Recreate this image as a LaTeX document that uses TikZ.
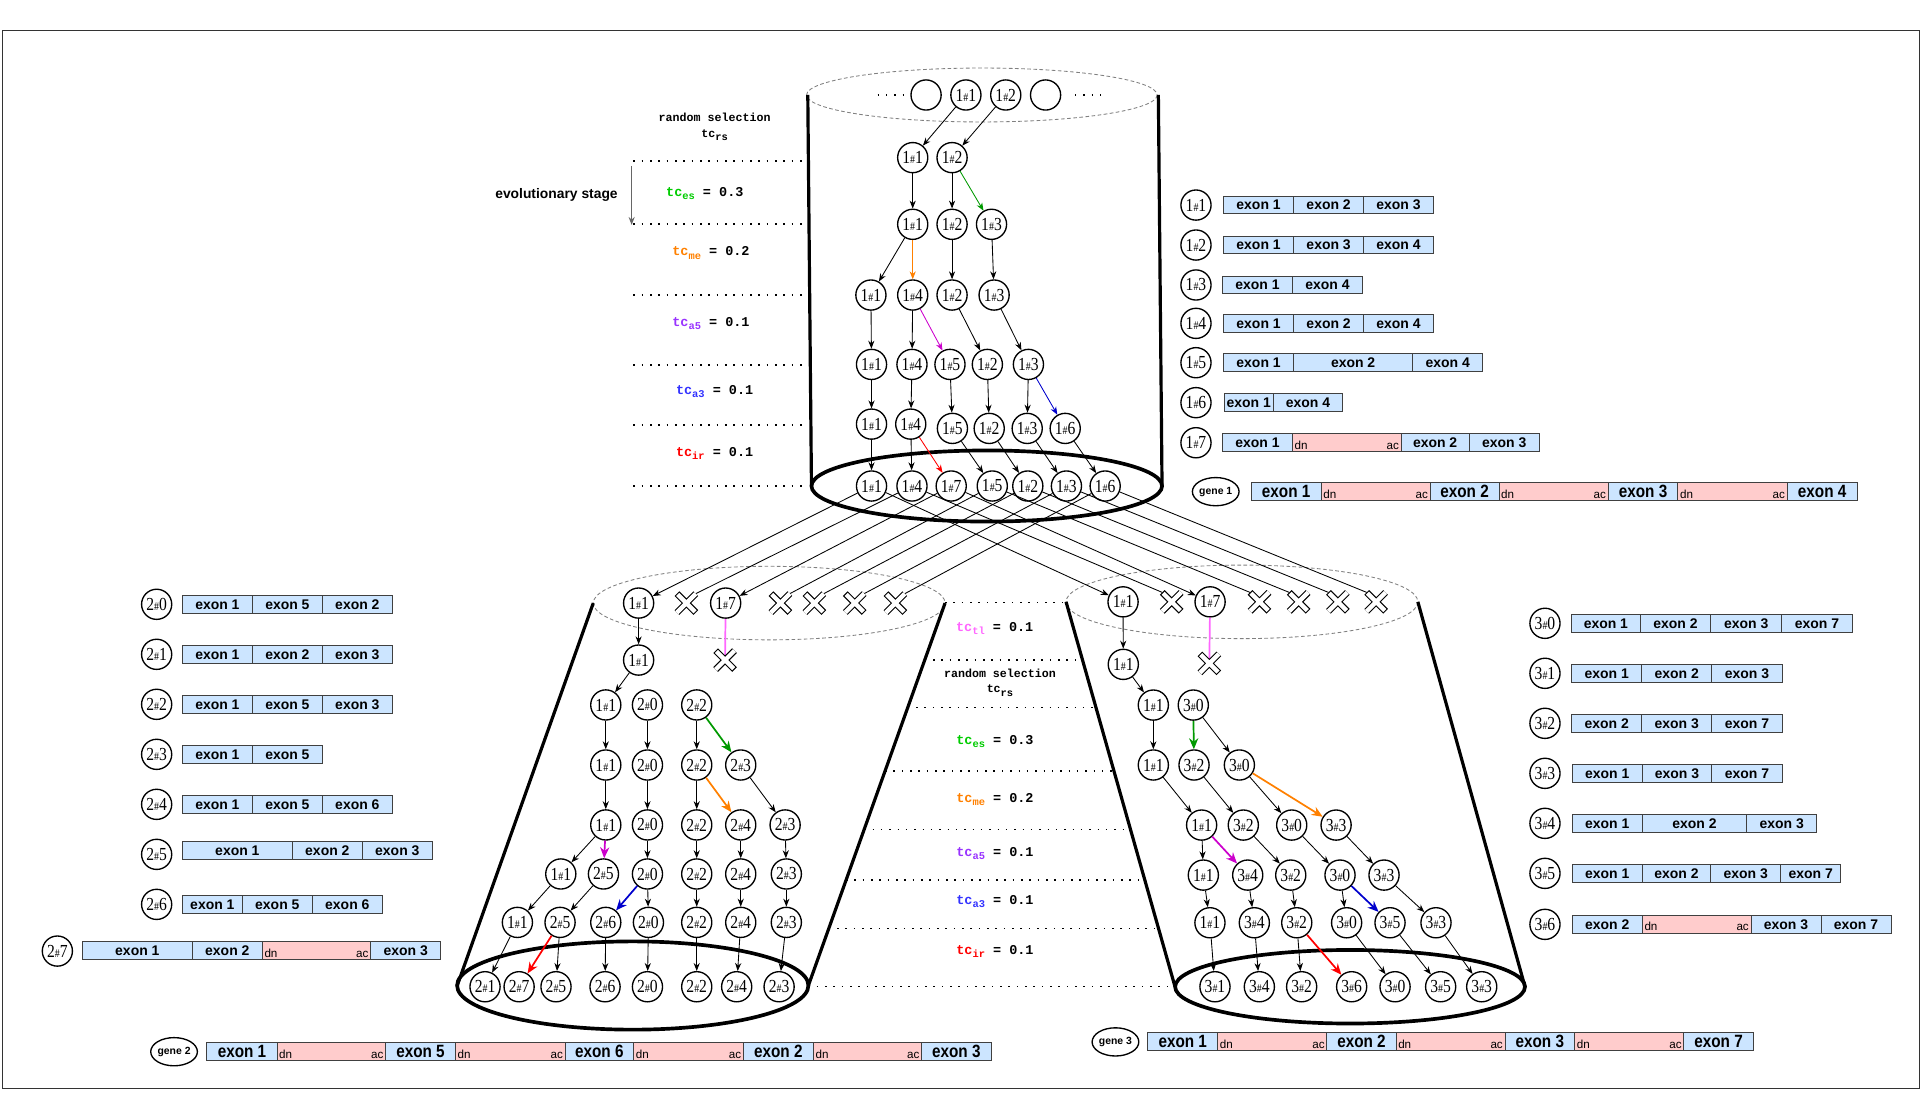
\documentclass[tikz,border=0pt]{standalone}
\usepackage{fontspec}
\setmainfont{Liberation Serif}
\setsansfont{Liberation Sans}
\setmonofont{Liberation Mono}
\newfontfamily\barfont{Liberation Sans}[FakeStretch=0.86]
\newfontfamily\nodefont{Liberation Serif}[FakeStretch=0.85]
\usepackage{xcolor}
\usetikzlibrary{arrows.meta,positioning,calc,shapes.geometric}

\definecolor{esgreen}{RGB}{0,153,0}
\definecolor{estext}{RGB}{0,204,0}
\definecolor{meorange}{RGB}{255,128,0}
\definecolor{a5mag}{RGB}{204,0,204}
\definecolor{a5text}{RGB}{153,51,255}
\definecolor{a3blue}{RGB}{0,0,204}
\definecolor{a3text}{RGB}{51,51,255}
\definecolor{irred}{RGB}{255,0,0}
\definecolor{tlpink}{RGB}{255,102,255}
\definecolor{exonblue}{RGB}{204,229,255}
\definecolor{intronpink}{RGB}{255,204,204}

\newcommand{\sh}{{\fontsize{9.5}{9}\selectfont\#}}
\newcommand{\tcl}[3]{{\color{#1}tc\raisebox{-2.8pt}{\fontsize{8.5}{9}\selectfont #2}}\ = #3}
\newcommand{\tcrs}{tc\raisebox{-2.8pt}{\fontsize{8.5}{9}\selectfont rs}}

% one bar of exons: name, y, extra style, list x0/x1/type/text (type 1 = intron)
\newcommand{\exonbar}[4]{%
  \foreach \xa/\xb/\ty/\lab [count=\k] in {#4}{%
    \ifnum\ty=0
      \node[exoncell, #3, minimum width={(\xb-\xa)*1pt}] (#1-\k) at ({(\xa+\xb)/2},#2) {\lab};
    \else
      \node[introncell, #3, minimum width={(\xb-\xa)*1pt}] (#1-\k) at ({(\xa+\xb)/2},#2) {};
      \node[dnac, anchor=south west] (#1-\k-dn) at (#1-\k.south west) {dn};
      \node[dnac, anchor=south east] (#1-\k-ac) at (#1-\k.south east) {ac};
    \fi}}

% white cross drawn over an xbox node
\newcommand{\xcross}[1]{%
  \draw[line width=5.4pt] (#1.south west) -- (#1.north east) (#1.north west) -- (#1.south east);
  \draw[line width=3.6pt, white, shorten >=0.9pt, shorten <=0.9pt] (#1.south west) -- (#1.north east) (#1.north west) -- (#1.south east);}

\begin{document}
\begin{tikzpicture}[x=1pt, y=-1pt, >={Stealth[length=6.5pt,width=5pt]},
    gnode/.style={circle, draw, line width=1.1pt, fill=white, minimum size=24.6pt, inner sep=0pt, font=\nodefont\fontsize{15}{15}\selectfont},
    genenode/.style={ellipse, draw, line width=1.1pt, fill=white, minimum width=37pt, minimum height=23pt, inner sep=0pt, font=\sffamily\bfseries\fontsize{8.5}{9}\selectfont},
    xbox/.style={rectangle, minimum size=15pt, inner sep=0pt},
    exoncell/.style={rectangle, draw=black!75, line width=0.8pt, fill=exonblue, minimum height=14.5pt, inner sep=0pt, font=\sffamily\bfseries\fontsize{11.4}{12}\selectfont},
    introncell/.style={exoncell, fill=intronpink},
    barcell/.style={minimum height=14.7pt, font=\barfont\bfseries\fontsize{14.5}{15}\selectfont},
    dnac/.style={inner sep=2pt, font=\sffamily\fontsize{9.5}{9.5}\selectfont},
    tclab/.style={font=\ttfamily\bfseries\fontsize{11}{12}\selectfont},
    rslab/.style={align=center, font=\ttfamily\bfseries\fontsize{9.5}{12.7}\selectfont},
    dotline/.style={line width=1.2pt, dash pattern=on 1.2pt off 5.6pt},
    cylside/.style={line width=2.6pt},
    cylbase/.style={line width=3pt},
    cyltop/.style={gray, line width=0.7pt, dash pattern=on 3pt off 2pt},
    arr/.style={->, line width=0.7pt},
    carr/.style={-{Stealth[length=9pt,width=7.5pt]}, line width=1.4pt}]

    \useasboundingbox (0,0) rectangle (1568,901);
    \draw[line width=1.3pt, black!80] (2,25) rectangle (1566,888);

    % cylinders
    \draw[cyltop] (801,77.5) ellipse [x radius=143, y radius=22];
    \draw[cylside] (659,77.5) -- (662,396.5);
    \draw[cylside] (945,77.5) -- (948,396.5);
    \draw[cylbase] (805,396.5) ellipse [x radius=143, y radius=29];

    \draw[cyltop] (627.5,492) ellipse [x radius=143.5, y radius=30];
    \draw[cylside] (484,492) -- (373,804);
    \draw[cylside] (771,492) -- (659.5,804);
    \draw[cylbase] (516.2,804) ellipse [x radius=143.3, y radius=36];

    \draw[cyltop] (1013.2,491) ellipse [x radius=143.5, y radius=30];
    \draw[cylside] (869.7,491) -- (958.6,805);
    \draw[cylside] (1156.7,491) -- (1244.1,805);
    \draw[cylbase] (1101.4,805) ellipse [x radius=142.7, y radius=30];

    % stages, top
    \foreach \y in {131.3,182.7,240.6,297.8,346.7,396.5}
        \draw[dotline] (516.7,\y) -- (655.4,\y);
    \node[rslab] (rs1) at (583,103.6) {random selection\\\tcrs};
    \node[tclab] (es1) at (575,157.7) {\tcl{estext}{es}{0.3}};
    \node[tclab] (me1) at (580,206.6) {\tcl{meorange}{me}{0.2}};
    \node[tclab] (a51) at (580,263.8) {\tcl{a5text}{a5}{0.1}};
    \node[tclab] (a31) at (583,319.5) {\tcl{a3text}{a3}{0.1}};
    \node[tclab] (ir1) at (583,369.8) {\tcl{irred}{ir}{0.1}};
    \node[font=\sffamily\bfseries\fontsize{11.3}{12}\selectfont] (evo) at (454,159) {evolutionary stage};
    \coordinate (evotop) at (515.3,135.4);
    \coordinate (evobot) at (515.3,183.5);
    \draw[->, black!60, line width=0.9pt] (evotop) -- (evobot);

    % stages, middle
    \draw[dotline] (771,491.7) -- (869,491.7);
    \draw[dotline] (754.4,538.5) -- (882.4,538.5);
    \draw[dotline] (740.6,577.1) -- (893.4,577.1);
    \draw[dotline] (722.1,628.8) -- (908.2,628.8);
    \draw[dotline] (705,676.6) -- (921.9,676.6);
    \draw[dotline] (690.2,718) -- (933.7,718);
    \draw[dotline] (676.1,757.4) -- (945,757.4);
    \draw[dotline] (659.5,805) -- (958.6,805);
    \node[tclab] (tl2) at (811.5,512.6) {\tcl{tlpink}{tl}{0.1}};
    \node[rslab] (rs2) at (815.8,556.9) {random selection\\\tcrs};
    \node[tclab] (es2) at (811.7,605.1) {\tcl{estext}{es}{0.3}};
    \node[tclab] (me2) at (811.7,652.2) {\tcl{meorange}{me}{0.2}};
    \node[tclab] (a52) at (811.7,696.2) {\tcl{a5text}{a5}{0.1}};
    \node[tclab] (a32) at (811.7,735.7) {\tcl{a3text}{a3}{0.1}};
    \node[tclab] (ir2) at (811.7,776.4) {\tcl{irred}{ir}{0.1}};

    % gene 1 population
    \draw[dotline] (716,77.5) -- (738,77.5);
    \draw[dotline] (877,77.5) -- (899,77.5);
    \node[gnode] (ue1) at (755.5,77.5) {};
    \node[gnode] (ut1) at (788,77.5) {1\sh1};
    \node[gnode] (ut2) at (820.5,77.5) {1\sh2};
    \node[gnode] (ue2) at (853,77.5) {};
    \node[gnode] (u01) at (744.6,128.6) {1\sh1};
    \node[gnode] (u02) at (776.7,128.6) {1\sh2};
    \node[gnode] (u11) at (744.6,183) {1\sh1};
    \node[gnode] (u12) at (776.7,183) {1\sh2};
    \node[gnode] (u13) at (808.9,183) {1\sh3};
    \node[gnode] (u21) at (710.5,240.7) {1\sh1};
    \node[gnode] (u22) at (744.6,240.7) {1\sh4};
    \node[gnode] (u23) at (776.7,240.7) {1\sh2};
    \node[gnode] (u24) at (811,240.7) {1\sh3};
    \node[gnode] (u31) at (711,297.3) {1\sh1};
    \node[gnode] (u32) at (744,297.3) {1\sh4};
    \node[gnode] (u33) at (775,297.3) {1\sh5};
    \node[gnode] (u34) at (805.5,297.3) {1\sh2};
    \node[gnode] (u35) at (839,297.3) {1\sh3};
    \node[gnode] (u41) at (711,346) {1\sh1};
    \node[gnode] (u42) at (743,346) {1\sh4};
    \node[gnode] (u43) at (777,349.5) {1\sh5};
    \node[gnode] (u44) at (807,349.5) {1\sh2};
    \node[gnode] (u45) at (838,349.5) {1\sh3};
    \node[gnode] (u46) at (869,349.5) {1\sh6};
    \node[gnode] (u51) at (711,396.5) {1\sh1};
    \node[gnode] (u52) at (744,396.5) {1\sh4};
    \node[gnode] (u53) at (776,396.5) {1\sh7};
    \node[gnode] (u54) at (809.5,396.5) {1\sh5};
    \node[gnode] (u55) at (838.5,396.5) {1\sh2};
    \node[gnode] (u56) at (870,396.5) {1\sh3};
    \node[gnode] (u57) at (901.6,396.5) {1\sh6};

    \foreach \a/\b in {ut1/u01, ut2/u02, u01/u11, u02/u12, u11/u21, u12/u23, u13/u24,
        u21/u31, u22/u32, u23/u34, u24/u35, u31/u41, u32/u42, u33/u43, u34/u44, u35/u45,
        u41/u51, u42/u52, u43/u54, u44/u55, u45/u56, u46/u57}
        \draw[arr] (\a) -- (\b);
    \draw[arr, esgreen] (u02) -- (u13);
    \draw[arr, meorange] (u11) -- (u22);
    \draw[arr, a5mag] (u22) -- (u33);
    \draw[arr, a3blue] (u35) -- (u46);
    \draw[arr, irred] (u42) -- (u53);

    % gene 2 population
    \node[gnode] (l01) at (521,492) {1\sh1};
    \node[xbox] (lx2) at (560,492) {};
    \node[gnode] (l03) at (592,492) {1\sh7};
    \node[xbox] (lx4) at (636.7,492) {};
    \node[xbox] (lx5) at (664.4,492) {};
    \node[xbox] (lx6) at (697.3,492) {};
    \node[xbox] (lx7) at (730.5,492) {};
    \node[gnode] (l11) at (521,538.5) {1\sh1};
    \node[xbox] (lx13) at (591.5,538.5) {};
    \node[gnode] (lA1) at (494.2,575.1) {1\sh1};
    \node[gnode] (lA2) at (528.2,575.1) {2\sh0};
    \node[gnode] (lA3) at (568.4,575.1) {2\sh2};
    \node[gnode] (lB1) at (494.2,624.1) {1\sh1};
    \node[gnode] (lB2) at (528.2,624.1) {2\sh0};
    \node[gnode] (lB3) at (568.4,624.1) {2\sh2};
    \node[gnode] (lB4) at (604.3,624.1) {2\sh3};
    \node[gnode] (lC1) at (494.2,673) {1\sh1};
    \node[gnode] (lC2) at (528.2,673) {2\sh0};
    \node[gnode] (lC3) at (568.4,673) {2\sh2};
    \node[gnode] (lC4) at (604.3,673) {2\sh4};
    \node[gnode] (lC5) at (640.5,673) {2\sh3};
    \node[gnode] (lD1) at (457.5,713) {1\sh1};
    \node[gnode] (lD2) at (492.3,713) {2\sh5};
    \node[gnode] (lD3) at (528.2,713) {2\sh0};
    \node[gnode] (lD4) at (568.4,713) {2\sh2};
    \node[gnode] (lD5) at (604.3,713) {2\sh4};
    \node[gnode] (lD6) at (641.5,713) {2\sh3};
    \node[gnode] (lE1) at (422.1,752.5) {1\sh1};
    \node[gnode] (lE2) at (456.9,752.5) {2\sh5};
    \node[gnode] (lE3) at (494.2,752.5) {2\sh6};
    \node[gnode] (lE4) at (529,752.5) {2\sh0};
    \node[gnode] (lE5) at (568.4,752.5) {2\sh2};
    \node[gnode] (lE6) at (604.3,752.5) {2\sh4};
    \node[gnode] (lE7) at (641.5,752.5) {2\sh3};
    \node[gnode] (lF1) at (395.7,805) {2\sh1};
    \node[gnode] (lF2) at (423.5,805) {2\sh7};
    \node[gnode] (lF3) at (453.6,805) {2\sh5};
    \node[gnode] (lF4) at (493.6,805) {2\sh6};
    \node[gnode] (lF5) at (528.2,805) {2\sh0};
    \node[gnode] (lF6) at (568.4,805) {2\sh2};
    \node[gnode] (lF7) at (601,805) {2\sh4};
    \node[gnode] (lF8) at (635.6,805) {2\sh3};

    % gene 3 population
    \node[gnode] (r01) at (916.2,491) {1\sh1};
    \node[xbox] (rx2) at (955.9,491) {};
    \node[gnode] (r03) at (987.2,491) {1\sh7};
    \node[xbox] (rx4) at (1027.5,491) {};
    \node[xbox] (rx5) at (1059.5,491) {};
    \node[xbox] (rx6) at (1091.5,491) {};
    \node[xbox] (rx7) at (1122.7,491) {};
    \node[gnode] (r11) at (916.4,542) {1\sh1};
    \node[xbox] (rx13) at (986.6,541.2) {};
    \node[gnode] (rA1) at (940.9,575.2) {1\sh1};
    \node[gnode] (rA2) at (973.5,575.2) {3\sh0};
    \node[gnode] (rB1) at (940.9,624.1) {1\sh1};
    \node[gnode] (rB2) at (974.1,624.1) {3\sh2};
    \node[gnode] (rB3) at (1011.1,624.1) {3\sh0};
    \node[gnode] (rC1) at (980.3,673.1) {1\sh1};
    \node[gnode] (rC2) at (1014.3,673.1) {3\sh2};
    \node[gnode] (rC3) at (1053.8,673.1) {3\sh0};
    \node[gnode] (rC4) at (1090,673.1) {3\sh3};
    \node[gnode] (rD1) at (981.7,713.9) {1\sh1};
    \node[gnode] (rD2) at (1017.9,713.9) {3\sh4};
    \node[gnode] (rD3) at (1053,713.9) {3\sh2};
    \node[gnode] (rD4) at (1093.2,713.9) {3\sh0};
    \node[gnode] (rD5) at (1129.1,713.9) {3\sh3};
    \node[gnode] (rE1) at (987.1,752.8) {1\sh1};
    \node[gnode] (rE2) at (1023.3,752.8) {3\sh4};
    \node[gnode] (rE3) at (1057.9,752.8) {3\sh2};
    \node[gnode] (rE4) at (1098.6,752.8) {3\sh0};
    \node[gnode] (rE5) at (1134,752.8) {3\sh5};
    \node[gnode] (rE6) at (1171.5,752.8) {3\sh3};
    \node[gnode] (rF1) at (991.2,805) {3\sh1};
    \node[gnode] (rF2) at (1027.4,805) {3\sh4};
    \node[gnode] (rF3) at (1061.9,805) {3\sh2};
    \node[gnode] (rF4) at (1102.7,805) {3\sh6};
    \node[gnode] (rF5) at (1138.1,805) {3\sh0};
    \node[gnode] (rF6) at (1175.3,805) {3\sh5};
    \node[gnode] (rF7) at (1208.8,805) {3\sh3};

    % transfer to gene 2 and gene 3
    \draw[arr] (u51) -- (l01);
    \draw[arr] (u53) -- (l03);
    \draw[arr] (u51) -- (r01);
    \draw[arr] (u53) -- (r03);
    \foreach \a/\b in {u52/lx2, u54/lx4, u55/lx5, u56/lx6, u57/lx7}
        \draw[line width=0.7pt] (\a) -- (\b.north east);
    \foreach \a/\b in {u52/rx2, u54/rx4, u55/rx5, u56/rx6, u57/rx7}
        \draw[line width=0.7pt] (\a) -- (\b.north west);
    \draw[tlpink, line width=1.4pt] (l03) -- (lx13.center);
    \draw[tlpink, line width=1.4pt] (r03) -- (rx13.center);
    \foreach \c in {lx2,lx4,lx5,lx6,lx7,lx13,rx2,rx4,rx5,rx6,rx7,rx13}
        {\xcross{\c}}

    \foreach \a/\b in {l01/l11, l11/lA1, lA1/lB1, lA2/lB2, lA3/lB3, lB1/lC1, lB2/lC2, lB3/lC3, lB4/lC5,
        lC1/lD1, lC2/lD3, lC3/lD4, lC4/lD5, lC5/lD6, lD1/lE1, lD2/lE2, lD3/lE4, lD4/lE5, lD5/lE6, lD6/lE7,
        lE1/lF1, lE2/lF3, lE3/lF4, lE4/lF5, lE5/lF6, lE6/lF7, lE7/lF8}
        \draw[arr] (\a) -- (\b);
    \draw[carr, esgreen] (lA3) -- (lB4);
    \draw[carr, meorange] (lB3) -- (lC4);
    \draw[carr, a5mag] (lC1) -- (lD2);
    \draw[carr, a3blue] (lD3) -- (lE3);
    \draw[carr, irred] (lE2) -- (lF2);

    \foreach \a/\b in {r01/r11, r11/rA1, rA1/rB1, rA2/rB3, rB1/rC1, rB2/rC2, rB3/rC3,
        rC1/rD1, rC2/rD3, rC3/rD4, rC4/rD5, rD1/rE1, rD2/rE2, rD3/rE3, rD4/rE4, rD5/rE6,
        rE1/rF1, rE2/rF2, rE3/rF3, rE4/rF5, rE5/rF6, rE6/rF7}
        \draw[arr] (\a) -- (\b);
    \draw[carr, esgreen] (rA2) -- (rB2);
    \draw[carr, meorange] (rB3) -- (rC4);
    \draw[carr, a5mag] (rC1) -- (rD2);
    \draw[carr, a3blue] (rD4) -- (rE5);
    \draw[carr, irred] (rE3) -- (rF4);

    % gene 1 isoforms
    \node[gnode] (k1) at (975.7,167.3) {1\sh1};
    \node[gnode] (k2) at (975.7,199.9) {1\sh2};
    \node[gnode] (k3) at (975.7,232.5) {1\sh3};
    \node[gnode] (k4) at (975.7,263.8) {1\sh4};
    \node[gnode] (k5) at (975.7,295.9) {1\sh5};
    \node[gnode] (k6) at (975.7,328.5) {1\sh6};
    \node[gnode] (k7) at (975.7,361.2) {1\sh7};
    \exonbar{b11}{167.3}{}{998.1/1055.4/0/exon 1, 1055.4/1112.4/0/exon 2, 1112.4/1169.3/0/exon 3}
    \exonbar{b12}{199.9}{}{998.1/1055.4/0/exon 1, 1055.4/1112.4/0/exon 3, 1112.4/1169.3/0/exon 4}
    \exonbar{b13}{232.5}{}{997.4/1054.3/0/exon 1, 1054.3/1111.6/0/exon 4}
    \exonbar{b14}{263.8}{}{998.1/1055.4/0/exon 1, 1055.4/1112.4/0/exon 2, 1112.4/1169.3/0/exon 4}
    \exonbar{b15}{295.9}{}{998.1/1055.4/0/exon 1, 1055.4/1152.4/0/exon 2, 1152.4/1209.7/0/exon 4}
    \exonbar{b16}{328.5}{}{998.9/1038.6/0/exon 1, 1038.6/1095.5/0/exon 4}
    \exonbar{b17}{361.2}{}{997.4/1054.3/0/exon 1, 1054.3/1143.1/1/, 1143.1/1198.5/0/exon 2, 1198.5/1255.8/0/exon 3}
    \node[genenode] (gene1) at (991.8,401.1) {gene 1};
    \exonbar{g1}{401.1}{barcell}{1020.6/1077.9/0/exon 1, 1077.9/1166.7/1/, 1166.7/1222.9/0/exon 2, 1222.9/1312/1/, 1312/1368.9/0/exon 3, 1368.9/1458/1/, 1458/1515/0/exon 4}

    % gene 2 isoforms
    \node[gnode] (m0) at (127.8,493) {2\sh0};
    \node[gnode] (m1) at (127.8,533.8) {2\sh1};
    \node[gnode] (m2) at (127.8,574.6) {2\sh2};
    \node[gnode] (m3) at (127.8,615.4) {2\sh3};
    \node[gnode] (m4) at (127.8,656.2) {2\sh4};
    \node[gnode] (m5) at (127.8,697) {2\sh5};
    \node[gnode] (m6) at (127.8,737.8) {2\sh6};
    \node[gnode] (m7) at (46.8,775.9) {2\sh7};
    \exonbar{b20}{493}{}{148.8/205.9/0/exon 1, 205.9/263/0/exon 5, 263/320.1/0/exon 2}
    \exonbar{b21}{533.8}{}{148.8/205.9/0/exon 1, 205.9/263/0/exon 2, 263/320.1/0/exon 3}
    \exonbar{b22}{574.6}{}{148.8/205.9/0/exon 1, 205.9/263/0/exon 5, 263/320.1/0/exon 3}
    \exonbar{b23}{615.4}{}{148.8/205.9/0/exon 1, 205.9/263/0/exon 5}
    \exonbar{b24}{656.2}{}{148.8/205.9/0/exon 1, 205.9/263/0/exon 5, 263/320.1/0/exon 6}
    \exonbar{b25}{694}{}{148.8/238.5/0/exon 1, 238.5/295.6/0/exon 2, 295.6/352.7/0/exon 3}
    \exonbar{b26}{737.8}{}{148.8/197.7/0/exon 1, 197.7/254.8/0/exon 5, 254.8/311.9/0/exon 6}
    \exonbar{b27}{775.7}{}{67.2/156.9/0/exon 1, 156.9/214/0/exon 2, 214/302.4/1/, 302.4/359.5/0/exon 3}
    \node[genenode] (gene2) at (142,858) {gene 2};
    \exonbar{g2}{858}{barcell}{168.8/226/0/exon 1, 226/314.6/1/, 314.6/371.5/0/exon 5, 371.5/461/1/, 461/516.9/0/exon 6, 516.9/606.4/1/, 606.4/663.6/0/exon 2, 663.6/751.8/1/, 751.8/808.6/0/exon 3}

    % gene 3 isoforms
    \node[gnode] (n0) at (1260.4,508.5) {3\sh0};
    \node[gnode] (n1) at (1260.4,549.3) {3\sh1};
    \node[gnode] (n2) at (1260.4,590.1) {3\sh2};
    \node[gnode] (n3) at (1260.4,630.9) {3\sh3};
    \node[gnode] (n4) at (1260.4,671.7) {3\sh4};
    \node[gnode] (n5) at (1260.4,712.5) {3\sh5};
    \node[gnode] (n6) at (1260.4,754.1) {3\sh6};
    \exonbar{b30}{508.5}{}{1282.2/1338/0/exon 1, 1338/1395.6/0/exon 2, 1395.6/1453.5/0/exon 3, 1453.5/1511.2/0/exon 7}
    \exonbar{b31}{549.3}{}{1282.2/1339.3/0/exon 1, 1339.3/1396.4/0/exon 2, 1396.4/1454/0/exon 3}
    \exonbar{b32}{590.1}{}{1282.2/1339.3/0/exon 2, 1339.3/1396.4/0/exon 3, 1396.4/1454/0/exon 7}
    \exonbar{b33}{630.9}{}{1282.7/1339.8/0/exon 1, 1339.8/1396.4/0/exon 3, 1396.4/1454/0/exon 7}
    \exonbar{b34}{671.7}{}{1282.7/1339.8/0/exon 1, 1339.8/1425/0/exon 2, 1425/1482/0/exon 3}
    \exonbar{b35}{712.5}{}{1282.7/1339.8/0/exon 1, 1339.8/1395.6/0/exon 2, 1395.6/1452.7/0/exon 3, 1452.7/1501.6/0/exon 7}
    \exonbar{b36}{754.1}{}{1282.7/1339.8/0/exon 2, 1339.8/1428.5/1/, 1428.5/1485.6/0/exon 3, 1485.6/1542.7/0/exon 7}
    \node[genenode] (gene3) at (910,850) {gene 3};
    \exonbar{g3}{849.9}{barcell}{936.5/993.3/0/exon 1, 993.3/1082.5/1/, 1082.5/1138.9/0/exon 2, 1138.9/1227.8/1/, 1227.8/1284.6/0/exon 3, 1284.6/1373.8/1/, 1373.8/1430.3/0/exon 7}
\end{tikzpicture}
\end{document}
